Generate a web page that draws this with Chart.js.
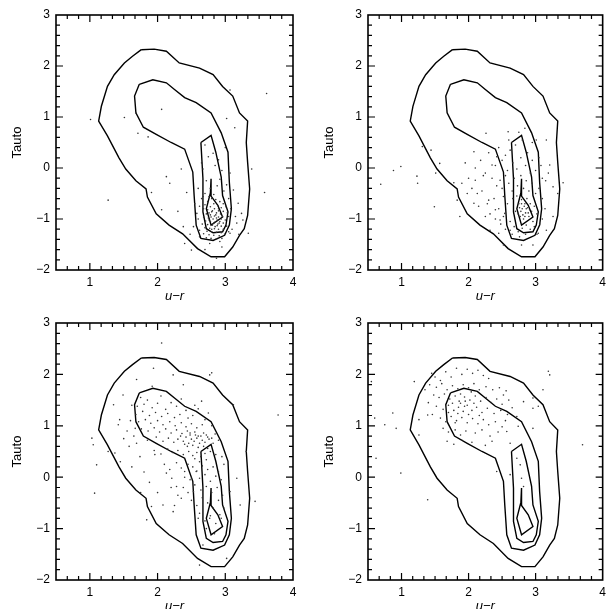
<!DOCTYPE html>
<html>
<head>
<meta charset="utf-8">
<script src="https://cdn.jsdelivr.net/npm/chart.js@4.4.0/dist/chart.umd.min.js"></script>
<style>
  body { margin: 0; width: 611px; height: 609px; overflow: hidden; background: #fff; position: relative; }
  canvas { position: absolute; }
</style>
</head>
<body>
<canvas id="p1" width="305" height="305" style="left:0;top:0"></canvas>
<canvas id="p2" width="299" height="305" style="left:312px;top:0"></canvas>
<canvas id="p3" width="305" height="307" style="left:0;top:308px"></canvas>
<canvas id="p4" width="299" height="307" style="left:312px;top:308px"></canvas>
<script>
// axis ticks (labelled)
const xTickValues = [1, 2, 3, 4]
const yTickValues = [-2, -1, 0, 1, 2, 3]

// density contours (same in every panel), u-r vs Tauto
const contourOuter = [[1.76,2.32],[1.95,2.33],[2.13,2.29],[2.32,2.06],[2.62,1.96],[2.82,1.83],[2.96,1.60],[3.11,1.41],[3.21,1.08],[3.33,0.92],[3.31,0.50],[3.33,0.11],[3.36,-0.41],[3.33,-0.93],[3.28,-1.19],[3.21,-1.32],[3.11,-1.55],[2.99,-1.74],[2.79,-1.74],[2.59,-1.58],[2.37,-1.29],[2.17,-1.12],[1.98,-0.90],[1.85,-0.57],[1.83,-0.41],[1.68,-0.25],[1.53,-0.02],[1.43,0.20],[1.26,0.63],[1.13,0.92],[1.17,1.21],[1.26,1.60],[1.36,1.83],[1.51,2.06],[1.63,2.19],[1.76,2.32]]
const contourSecond = [[1.73,1.64],[1.93,1.73],[2.13,1.67],[2.25,1.54],[2.40,1.38],[2.57,1.28],[2.79,1.08],[2.94,0.69],[3.04,0.31],[3.06,-0.28],[3.09,-0.80],[3.06,-1.12],[2.99,-1.32],[2.82,-1.42],[2.64,-1.38],[2.57,-1.12],[2.54,-0.54],[2.52,-0.08],[2.40,0.37],[2.20,0.50],[1.98,0.66],[1.79,0.80],[1.68,1.08],[1.66,1.41],[1.73,1.64]]
const contourThird = [[2.64,0.50],[2.79,0.64],[2.86,0.31],[2.94,-0.18],[2.96,-0.54],[3.04,-0.86],[3.01,-1.12],[2.96,-1.25],[2.82,-1.27],[2.72,-1.19],[2.67,-0.86],[2.67,-0.21],[2.64,0.50]]
const contourInner = [[2.79,-0.21],[2.79,-0.55],[2.89,-0.73],[2.96,-0.96],[2.79,-1.12],[2.72,-0.80],[2.78,-0.49],[2.79,-0.21]]

// galaxies of each subsample
const dotsA = [[1.01,0.95],[1.51,0.99],[1.68,1.08],[2.06,1.15],[3.07,1.53],[3.61,1.46],[3.02,0.97],[3.14,0.79],[1.27,-0.63],[1.91,-0.48],[2.06,-0.82],[2.18,-0.30],[2.35,-0.02],[2.43,-0.48],[3.39,-0.02],[3.58,-0.48],[3.34,-1.28],[2.40,-1.48],[2.50,-1.61],[2.67,-0.56],[2.67,-0.02],[2.75,0.22],[2.82,0.29],[2.90,0.16],[3.07,-0.10],[3.02,-0.33],[3.12,-0.43],[3.19,-0.69],[3.24,-0.89],[3.17,-1.08],[3.07,-1.28],[2.62,-1.35],[2.77,-1.48],[2.92,-1.44],[2.87,-1.77],[2.58,-0.89],[2.53,-1.15],[2.62,-1.22],[2.38,-1.15],[2.13,-0.17],[1.71,0.68],[1.86,0.61],[3.26,-1.02],
  [2.70,0.45],[2.85,0.05],[2.95,-0.05],[2.72,-0.25],[2.88,-0.35],[2.98,-0.45],[2.60,-0.40],[2.78,-0.40],[3.05,-0.60],[2.55,-0.70],[2.30,-0.85],[2.48,-1.30],[3.15,-0.95],[3.10,-1.20],[3.20,-1.30],[2.95,-1.55],[2.70,-1.60],[3.00,0.40],[2.65,0.10],[2.92,-0.22],
  [2.80,-0.60],[2.86,-0.62],[2.74,-0.66],[2.92,-0.66],[2.97,-0.70],[2.70,-0.72],[2.83,-0.70],[2.89,-0.74],[2.78,-0.76],[2.94,-0.78],[3.01,-0.76],[2.68,-0.80],[2.74,-0.82],[2.84,-0.80],[2.90,-0.84],[2.97,-0.85],[2.80,-0.86],[2.87,-0.88],[2.72,-0.90],[2.93,-0.90],[3.03,-0.88],[2.78,-0.92],[2.84,-0.94],[2.90,-0.96],[2.96,-0.95],[2.68,-0.96],[2.75,-0.98],[2.82,-1.00],[2.88,-1.02],[2.94,-1.00],[3.00,-1.02],[2.71,-1.04],[2.78,-1.05],[2.85,-1.06],[2.91,-1.08],[2.97,-1.08],[2.66,-1.10],[2.74,-1.11],[2.81,-1.12],[2.88,-1.13],[2.94,-1.14],[3.02,-1.14],[2.70,-1.17],[2.77,-1.18],[2.84,-1.19],[2.90,-1.20],[2.97,-1.20],[2.73,-1.24],[2.80,-1.25],[2.87,-1.26],[2.94,-1.27],[2.68,-1.29],[2.76,-1.31],[2.83,-1.32],[2.91,-1.33],[2.99,-1.30],[2.79,-1.38],[2.87,-1.39],[2.72,-1.37],[2.95,-1.38],[2.86,-0.92],[2.81,-0.84],[2.89,-1.10],[2.76,-0.88],[2.92,-1.05],[2.83,-1.08],[2.79,-0.96],[2.87,-0.98],[2.85,-1.15],[2.80,-1.20],[2.90,-0.80],[2.76,-1.02],
  [2.70,-0.50],[2.76,-0.56],[2.65,-0.60],[2.83,-0.52],[2.62,-0.75],[2.60,-1.00],[3.05,-0.95],[3.08,-0.80],[3.05,-1.25]]

const dotsB = [[0.69,-0.32],[0.88,-0.05],[0.99,0.03],[1.23,-0.16],[1.24,-0.30],[1.31,0.42],[1.44,0.35],[1.51,-0.10],[1.57,0.09],[1.49,-0.76],[1.78,-0.29],[1.83,-0.63],[1.87,-0.95],[2.08,-0.69],[2.10,-0.24],[2.08,0.32],[2.26,0.68],[1.98,-0.50],[2.13,-0.50],[2.25,-0.95],[2.32,-1.22],[2.45,-1.28],[2.30,-0.63],[2.25,-0.10],[2.35,0.06],[2.42,0.22],[2.47,-0.24],[2.52,-0.56],[2.40,-0.82],[2.54,-0.89],[2.62,-1.22],[2.59,0.71],[2.84,0.78],[3.01,0.55],[3.16,0.55],[3.21,0.06],[3.19,-0.10],[3.26,-0.37],[3.33,-0.50],[3.41,-0.29],[3.26,-0.95],[3.16,-1.22],[3.04,-1.28],[2.96,-1.51],[2.79,-1.51],[2.52,-1.51],[2.47,-1.02],
  [2.30,0.30],[2.40,0.05],[2.45,0.40],[2.50,0.15],[2.55,0.25],[2.58,-0.05],[2.62,0.35],[2.66,0.10],[2.70,0.45],[2.72,-0.02],[2.78,0.20],[2.80,0.55],[2.85,0.05],[2.88,0.30],[2.92,-0.10],[2.95,0.15],[3.00,-0.05],[3.05,0.20],[3.10,-0.20],[2.35,-0.20],[2.42,-0.35],[2.50,-0.40],[2.55,-0.15],[2.60,-0.30],[2.65,-0.45],[2.68,-0.20],[2.73,-0.35],[2.78,-0.15],[2.82,-0.40],[2.86,-0.25],[2.90,-0.45],[2.95,-0.30],[3.00,-0.50],[3.05,-0.40],[3.10,-0.60],[2.20,-0.45],[2.28,-0.70],[2.38,-0.60],[2.45,-0.80],[2.52,-0.95],[2.58,-0.70],[2.62,-1.05],[2.66,-0.60],[2.70,-0.85],[2.72,-0.55],[2.75,-0.70],[2.77,-0.95],[2.79,-0.62],[2.80,-0.80],[2.82,-1.00],[2.84,-0.70],[2.85,-0.88],[2.87,-0.60],[2.88,-0.78],[2.90,-0.95],[2.92,-0.70],[2.94,-0.85],[2.96,-1.05],[2.98,-0.75],[3.02,-0.90],[3.06,-1.10],[3.10,-1.00],[3.14,-0.80],[2.68,-1.15],[2.74,-1.25],[2.80,-1.18],[2.86,-1.12],[2.92,-1.20],[2.98,-1.15],[3.02,-1.30],[2.85,-1.30],[2.76,-1.35],[2.65,-1.30],[2.55,-1.20],[2.48,-1.10],[2.40,-1.00],[2.32,-0.90],[2.15,-0.75],[2.05,-0.40],[2.10,0.00],[2.18,0.15],[2.22,-0.15],[2.00,-0.20],[1.95,0.10],[1.90,-0.30],[2.60,0.55],[2.75,0.70],[2.95,0.50],[3.08,0.05],[3.15,-0.25],[2.78,-0.85],[2.83,-0.75],[2.81,-0.92],[2.86,-0.80],[2.76,-0.78],[2.89,-0.88],[2.79,-0.70],[2.84,-0.95],[2.74,-0.90],[2.91,-0.82]]

const dotsC = [[2.06,2.61],[2.23,1.99],[2.38,1.80],[2.77,1.99],[2.80,2.03],[1.94,2.12],[1.92,1.77],[1.69,1.90],[3.12,1.41],[3.78,1.21],[1.03,0.76],[1.05,0.63],[1.10,0.24],[1.07,-0.31],[1.27,0.50],[1.37,0.47],[1.42,1.02],[1.44,1.12],[1.35,1.41],[1.49,1.60],[1.67,0.95],[1.69,0.66],[1.74,0.40],[1.96,0.44],[1.91,-0.57],[1.84,-0.83],[2.08,-0.54],[2.23,-0.67],[2.35,-0.41],[2.28,-0.18],[2.21,-0.02],[2.13,0.08],[2.40,0.11],[3.31,0.50],[3.44,-0.47],[3.17,-0.02],[3.22,-0.54],[3.07,-0.28],[3.02,-1.58],[2.67,-1.32],[2.62,-1.71],[2.92,-0.73],[2.77,-0.80],[2.60,-0.80],[2.53,-0.28],[2.50,-0.02],[2.57,0.11],
  [1.75,1.55],[1.85,1.50],[2.05,1.58],[2.20,1.45],[2.35,1.52],[2.55,1.40],[2.65,1.48],
  [1.70,1.38],[1.80,1.42],[1.92,1.35],[2.00,1.44],[2.12,1.32],[2.28,1.38],[2.42,1.30],[2.60,1.33],[2.75,1.25],
  [1.68,1.22],[1.78,1.28],[1.88,1.20],[1.97,1.26],[2.06,1.18],[2.15,1.24],[2.25,1.16],[2.33,1.22],[2.45,1.15],[2.52,1.20],[2.70,1.12],
  [1.72,1.08],[1.82,1.12],[1.90,1.05],[2.00,1.10],[2.08,1.02],[2.18,1.08],[2.26,1.00],[2.35,1.06],[2.42,0.98],[2.50,1.04],[2.58,0.96],[2.66,1.02],[2.80,1.00],
  [1.76,0.94],[1.86,0.90],[1.95,0.96],[2.03,0.88],[2.12,0.94],[2.20,0.86],[2.28,0.92],[2.36,0.85],[2.44,0.90],[2.48,0.82],[2.55,0.88],[2.60,0.80],[2.68,0.86],[2.74,0.78],[2.85,0.84],
  [1.85,0.72],[1.98,0.78],[2.08,0.70],[2.16,0.76],[2.24,0.68],[2.30,0.74],[2.38,0.70],[2.42,0.78],[2.46,0.66],[2.50,0.74],[2.54,0.70],[2.58,0.76],[2.62,0.66],[2.66,0.72],[2.70,0.68],[2.76,0.74],[2.82,0.66],[2.90,0.72],[2.44,0.60],[2.52,0.62],[2.60,0.58],[2.68,0.60],[2.74,0.56],[2.56,0.82],[2.64,0.80],[2.48,0.86],[2.40,0.64],[2.34,0.80],[2.72,0.82],[2.80,0.76],
  [1.95,0.52],[2.05,0.45],[2.15,0.55],[2.22,0.48],[2.30,0.52],[2.38,0.44],[2.46,0.50],[2.52,0.42],[2.58,0.48],[2.64,0.40],[2.70,0.46],[2.78,0.50],[2.86,0.44],[2.95,0.40],[2.55,0.36],[2.62,0.30],[2.72,0.34],
  [2.28,0.28],[2.35,0.18],[2.45,0.25],[2.52,0.20],[2.58,0.12],[2.66,0.22],[2.74,0.15],[2.82,0.20],[2.90,0.10],[2.98,0.25],[2.40,0.00],[2.48,-0.05],[2.62,-0.02],[2.70,0.05],[2.78,-0.08],[2.86,0.02],[2.94,-0.05],[2.38,-0.20],[2.45,-0.30],[2.55,-0.15],[2.64,-0.25],[2.72,-0.18],[2.80,-0.30],[2.88,-0.20],[2.96,-0.35],[2.50,-0.45],[2.58,-0.55],[2.66,-0.40],[2.74,-0.50],[2.82,-0.60],[2.90,-0.45],[2.98,-0.60],[2.62,-0.70],[2.70,-0.85],[2.78,-0.75],[2.86,-0.90],[2.94,-0.80],[2.72,-1.00],[2.84,-1.10],[2.30,-0.35],[2.20,-0.20],[2.18,0.15],[2.10,0.25],[2.25,-0.55],
  [1.62,1.40],[1.60,1.10],[1.55,0.90],[1.65,0.80],[1.58,0.60],[1.50,0.75],[1.45,0.30],[1.62,0.20],[1.80,0.10],[1.88,-0.10],[2.00,-0.30],[1.75,-0.30]]

const dotsD = [[0.55,1.86],[0.60,1.15],[0.62,0.37],[0.87,1.25],[0.92,0.95],[0.75,1.02],[0.99,0.08],[1.19,1.86],[1.26,1.12],[1.26,0.82],[1.39,-0.44],[1.39,1.21],[3.21,1.99],[3.19,2.06],[3.11,1.70],[3.04,1.38],[2.96,1.54],[2.96,1.34],[2.82,1.47],[2.52,1.60],[2.72,1.18],[2.74,0.99],[2.96,0.95],[3.70,0.63],[2.57,0.89],[2.62,0.66],[2.42,0.11],[2.72,0.37],[2.77,0.24],[2.79,-0.02],[2.82,-0.18],[2.62,0.05],
  [1.45,2.02],[1.50,1.95],[1.58,1.88],[1.66,2.05],[1.74,1.95],[1.82,2.12],[1.90,2.00],[1.98,2.10],[2.06,2.02],[2.14,2.08],[2.22,1.98],[2.30,1.92],[1.42,1.80],[1.52,1.75],[1.60,1.82],[1.68,1.70],[1.76,1.78],[1.84,1.72],[1.92,1.80],[2.00,1.74],[2.08,1.82],[2.16,1.70],[2.26,1.76],[2.36,1.70],[2.46,1.74],[2.56,1.68],[1.48,1.60],[1.56,1.55],[1.64,1.62],[1.72,1.52],[1.80,1.58],[1.86,1.48],[1.94,1.56],[2.02,1.50],[2.10,1.58],[2.18,1.48],[2.26,1.55],[2.34,1.45],[2.42,1.52],[2.50,1.42],[1.52,1.38],[1.62,1.32],[1.70,1.40],[1.78,1.30],[1.85,1.36],[1.92,1.28],[1.98,1.40],[2.05,1.30],[2.12,1.36],[2.20,1.26],[2.28,1.34],[2.38,1.24],[2.48,1.30],[2.58,1.22],[1.58,1.15],[1.66,1.08],[1.74,1.18],[1.82,1.10],[1.90,1.16],[1.98,1.06],[2.06,1.14],[2.14,1.04],[2.22,1.12],[2.30,1.02],[2.40,1.08],[2.50,0.98],[1.62,0.95],[1.70,0.88],[1.80,0.92],[1.88,0.82],[1.96,0.90],[2.10,0.86],[2.20,0.92],[2.32,0.80],[2.44,0.88],[1.68,0.70],[1.78,0.64],[1.90,0.72],[2.05,0.68],[2.25,0.62],[2.35,0.70],[1.88,1.44],[1.95,1.48],[1.84,1.24],[2.00,1.22],[1.76,1.44],[1.94,1.38],[2.08,1.44],[1.70,1.26],[2.16,1.20],[1.88,1.62],[2.04,1.66],[1.80,1.06],[1.46,1.22],[1.40,1.45],[1.35,1.70],[2.60,1.50],[2.65,1.35],[2.55,1.10]]

const contours = [contourOuter, contourSecond, contourThird, contourInner]
const fontFamily = '"Liberation Sans", Arial, sans-serif'

// frame round the plot with inward ticks on all four sides
const framePlugin = {
    id: 'frame',
    afterDatasetsDraw(chart) {
        const ctx = chart.ctx
        const a = chart.chartArea
        const x = chart.scales.x
        const y = chart.scales.y
        ctx.save()
        ctx.strokeStyle = '#000'
        ctx.lineWidth = 1.2
        ctx.beginPath()
        for (let i = 1; i < 21; i++) {
            const v = 0.5 + i / 6
            const major = Math.abs(v - Math.round(v)) < 1e-6
            const len = major ? 7 : 4
            const px = x.getPixelForValue(v)
            ctx.moveTo(px, a.bottom); ctx.lineTo(px, a.bottom - len)
            ctx.moveTo(px, a.top); ctx.lineTo(px, a.top + len)
        }
        for (let i = 1; i < 25; i++) {
            const v = -2 + i * 0.2
            const major = Math.abs(v - Math.round(v)) < 1e-6
            const len = major ? 7 : 4
            const py = y.getPixelForValue(v)
            ctx.moveTo(a.left, py); ctx.lineTo(a.left + len, py)
            ctx.moveTo(a.right, py); ctx.lineTo(a.right - len, py)
        }
        ctx.stroke()
        ctx.lineWidth = 1.6
        ctx.strokeRect(a.left, a.top, a.right - a.left, a.bottom - a.top)
        ctx.restore()
    }
}

function makePanel(id, dots) {
    const canvas = document.getElementById(id)
    const w = canvas.width

    const datasets = [{
        label: 'galaxies',
        data: dots.map((p) => ({x: p[0], y: p[1]})),
        pointRadius: 0.8,
        pointBorderWidth: 0,
        pointBackgroundColor: '#333',
        showLine: false,
    }]
    contours.forEach((c) => {
        datasets.push({
            data: c.map((p) => ({x: p[0], y: p[1]})),
            showLine: true,
            borderColor: '#000',
            borderWidth: 1.4,
            pointRadius: 0,
            tension: 0,
            fill: false,
        })
    })

    new Chart(canvas, {
        type: 'scatter',
        data: {datasets: datasets},
        options: {
            responsive: false,
            animation: false,
            events: [],
            layout: {padding: {top: 15, right: w - 293, left: 0, bottom: 0}},
            plugins: {legend: {display: false}, tooltip: {enabled: false}},
            scales: {
                x: {
                    type: 'linear', min: 0.5, max: 4,
                    afterBuildTicks: (s) => { s.ticks = xTickValues.map((v) => ({value: v})) },
                    afterFit: (s) => { s.height = 35 },
                    grid: {display: false, drawTicks: false},
                    border: {display: false},
                    ticks: {
                        padding: 5, color: '#000', autoSkip: false, maxRotation: 0,
                        font: {family: fontFamily, size: 12},
                        callback: (v) => String(v).replace('-', '\u2212'),
                    },
                    title: {
                        display: true, text: 'u\u2212r', color: '#000',
                        font: {family: fontFamily, size: 13, style: 'italic'},
                        padding: {top: 0, bottom: 1},
                    },
                },
                y: {
                    type: 'linear', min: -2, max: 3,
                    afterBuildTicks: (s) => { s.ticks = yTickValues.map((v) => ({value: v})) },
                    afterFit: (s) => { s.width = 56 },
                    grid: {display: false, drawTicks: false},
                    border: {display: false},
                    ticks: {
                        padding: 6, color: '#000', autoSkip: false,
                        font: {family: fontFamily, size: 12},
                        callback: (v) => String(v).replace('-', '\u2212'),
                    },
                    title: {
                        display: true, text: 'Tauto', color: '#000',
                        font: {family: fontFamily, size: 13},
                        padding: {top: 10, bottom: 0},
                    },
                },
            },
        },
        plugins: [framePlugin],
    })
}

makePanel('p1', dotsA)
makePanel('p2', dotsB)
makePanel('p3', dotsC)
makePanel('p4', dotsD)
</script>
</body>
</html>
